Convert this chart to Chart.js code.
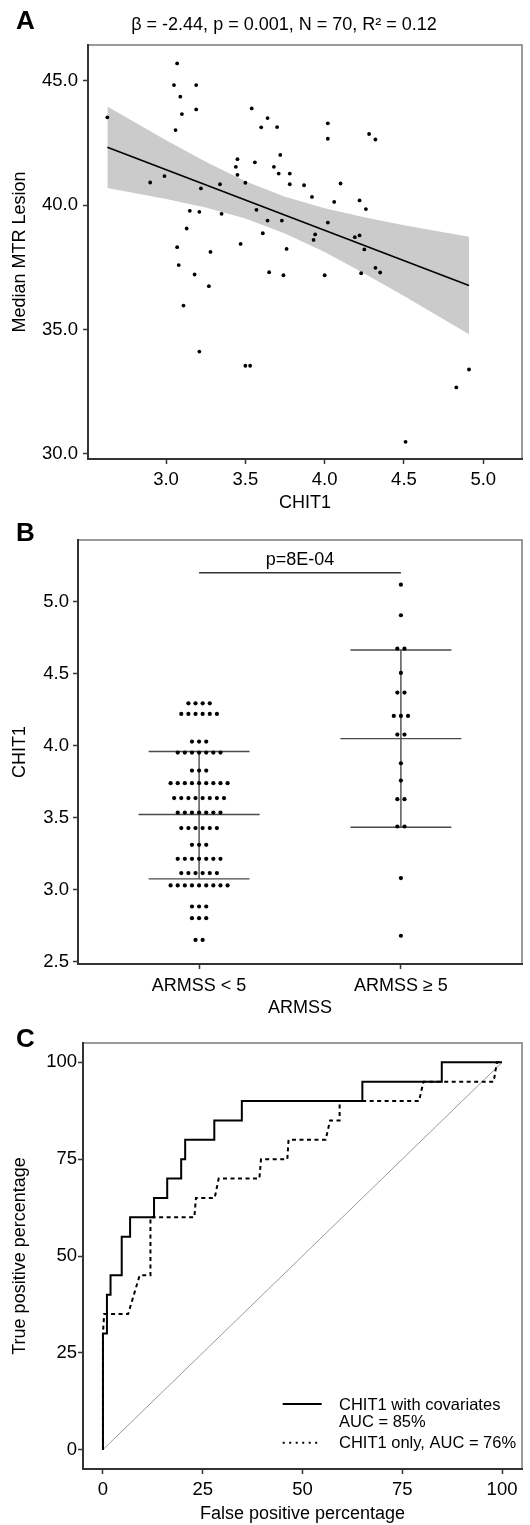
<!DOCTYPE html>
<html>
<head>
<meta charset="utf-8">
<script src="https://cdn.jsdelivr.net/npm/chart.js@4.4.1/dist/chart.umd.min.js"></script>
<style>
  html, body { margin: 0; padding: 0; background: #fff; overflow: hidden; }
  canvas { position: absolute; left: 0; }
</style>
</head>
<body>
<canvas id="chartA" width="530" height="515" style="top:0"></canvas>
<canvas id="chartB" width="530" height="510" style="top:515px"></canvas>
<canvas id="chartC" width="530" height="500" style="top:1025px"></canvas>
<script>
// ---- A: CHIT1 vs median MTR lesion ----
var chitValues = [2.63, 3.07, 3.05, 3.19, 3.09, 3.19, 3.10, 3.06, 2.90, 2.99,
                  3.22, 3.15, 3.21, 3.13, 3.07, 3.28, 3.34, 3.35, 3.47, 3.45,
                  3.44, 3.45, 3.50, 3.54, 3.56, 3.57, 3.60, 3.64, 3.70, 3.72,
                  3.68, 3.71, 3.78, 3.78, 3.64, 3.73, 3.61, 3.76, 3.87, 3.92,
                  4.06, 4.10, 4.02, 4.02, 4.28, 4.32, 4.02, 3.94, 3.93, 4.22,
                  4.26, 4.19, 4.22, 4.25, 3.08, 3.18, 3.27, 3.11, 3.65, 3.74,
                  4.00, 4.23, 4.32, 4.35, 3.21, 3.50, 3.53, 4.51, 4.83, 4.91];
var mtrValues = [43.53, 45.70, 44.83, 44.83, 44.36, 43.85, 43.66, 43.02, 40.91, 41.17,
                 40.67, 39.77, 39.73, 39.06, 38.31, 38.12, 40.84, 39.65, 38.44, 41.85,
                 41.54, 41.22, 40.90, 43.89, 41.72, 39.81, 43.13, 43.50, 43.14, 42.02,
                 41.54, 41.27, 41.27, 40.84, 39.38, 39.38, 38.87, 38.24, 40.80, 40.33,
                 40.13, 40.87, 43.29, 42.67, 42.86, 42.64, 39.30, 38.82, 38.60, 40.19,
                 39.84, 38.71, 38.78, 38.22, 37.59, 37.21, 36.74, 35.96, 37.30, 37.18,
                 37.18, 37.26, 37.48, 37.29, 34.11, 33.54, 33.54, 30.48, 32.67, 33.39];
var fitX = [2.63, 4.91];
var fitY = [42.33, 36.77];
var bandX = [2.63, 3.0, 3.25, 3.5, 3.75, 4.0, 4.25, 4.5, 4.91];
var bandUpper = [43.97, 42.61, 41.74, 40.96, 40.34, 39.87, 39.51, 39.19, 38.73];
var bandLower = [40.69, 40.25, 39.90, 39.46, 38.86, 38.11, 37.25, 36.35, 34.81];
var chitTicks = [3.0, 3.5, 4.0, 4.5, 5.0];
var mtrTicks = [30, 35, 40, 45];
var titleA = '\u03b2 = -2.44, p = 0.001, N = 70, R\u00b2 = 0.12';

// ---- B: CHIT1 by ARMSS group (dot rows: value + number of dots) ----
var armssGroups = ['ARMSS < 5', 'ARMSS \u2265 5'];
var lowRowValues = [4.295, 4.221, 4.029, 3.953, 3.828, 3.741, 3.637, 3.537,
                    3.429, 3.313, 3.216, 3.117, 3.031, 2.885, 2.804, 2.653];
var lowRowCounts = [4, 6, 3, 7, 3, 9, 8, 7, 6, 3, 7, 6, 9, 3, 3, 2];
var highRowValues = [5.118, 4.906, 4.674, 4.506, 4.369, 4.207, 4.078, 3.879,
                     3.759, 3.630, 3.440, 3.082, 2.682];
var highRowCounts = [1, 1, 2, 1, 2, 3, 2, 1, 1, 2, 2, 1, 1];
var groupMeans = [3.523, 4.050];
var groupSdLow = [3.077, 3.435];
var groupSdHigh = [3.960, 4.665];
var bracketY = 5.201;
var pLabel = 'p=8E-04';
var chitTicksB = [2.5, 3.0, 3.5, 4.0, 4.5, 5.0];

// ---- C: ROC curves ----
var covFpr = [0, 0, 1.0, 1.0, 1.9, 1.9, 4.7, 4.7, 6.8, 6.8, 12.8, 12.8, 16.1, 16.1,
              19.6, 19.6, 20.6, 20.6, 27.9, 27.9, 34.8, 34.8, 65.0, 65.0, 84.9, 84.9, 100];
var covTpr = [0, 30, 30, 40, 40, 45, 45, 55, 55, 60, 60, 65, 65, 70,
              70, 75, 75, 80, 80, 85, 85, 90, 90, 95, 95, 100, 100];
var onlyFpr = [0, 0, 0.3, 6.3, 9.2, 11.9, 11.9, 22.9, 23.3, 28.0, 29.0, 39.2, 39.6,
               46.2, 46.5, 55.8, 56.9, 59.3, 59.3, 79.2, 80.3, 97.9, 98.7, 100];
var onlyTpr = [0, 30, 35, 35, 45, 45, 60, 60, 65, 65, 70, 70, 75,
               75, 80, 80, 85, 85, 90, 90, 95, 95, 100, 100];
var pctTicks = [0, 25, 50, 75, 100];
var rocLegend = ['CHIT1 with covariates', 'AUC = 85%', 'CHIT1 only, AUC = 76%'];

Chart.defaults.font.family = '"Liberation Sans", Arial, sans-serif';
Chart.defaults.color = '#000';

function xy(xs, ys) {
    return xs.map(function (x, i) { return {x: x, y: ys[i]}; });
}

// grey frame round the panel, axes drawn over it
var frame = {
    id: 'frame',
    beforeDraw: function (chart) {
        var a = chart.chartArea, ctx = chart.ctx;
        ctx.save();
        ctx.strokeStyle = '#7a7a7a';
        ctx.lineWidth = 1.5;
        ctx.strokeRect(a.left, a.top, a.right - a.left, a.bottom - a.top);
        ctx.restore();
    }
};

// panel letters, titles, legend keys
var panelText = {
    id: 'panelText',
    afterDraw: function (chart, args, opts) {
        var ctx = chart.ctx;
        ctx.save();
        (opts.lines || []).forEach(function (l) {
            ctx.beginPath();
            ctx.setLineDash(l.dash || []);
            ctx.lineWidth = l.width;
            ctx.strokeStyle = '#000';
            ctx.moveTo(l.x1, l.y);
            ctx.lineTo(l.x2, l.y);
            ctx.stroke();
        });
        ctx.setLineDash([]);
        ctx.fillStyle = '#000';
        ctx.textBaseline = 'middle';
        (opts.texts || []).forEach(function (t) {
            var x = t.x, y = t.y;
            if (t.dataX !== undefined) {
                x = chart.scales.x.getPixelForValue(t.dataX);
                y = chart.scales.y.getPixelForValue(t.dataY) + t.dy;
            }
            ctx.font = t.font;
            ctx.textAlign = t.align || 'left';
            ctx.fillText(t.text, x, y);
        });
        ctx.restore();
    }
};

function numAxis(min, max, ticks, fmt, size, title, pad) {
    return {
        type: 'linear', min: min, max: max, bounds: 'data',
        afterBuildTicks: function (s) { s.ticks = ticks.map(function (v) { return {value: v}; }); },
        afterFit: function (s) {
            if (s.isHorizontal()) s.height = size; else s.width = size;
        },
        ticks: {callback: fmt, padding: pad.tick, font: {size: 18.5}, color: '#000',
                maxRotation: 0, autoSkip: false},
        grid: {drawOnChartArea: false, tickLength: 5, tickColor: '#333', tickWidth: 1.5},
        border: {color: '#333', width: 2},
        title: {display: true, text: title, font: {size: 18}, color: '#000', padding: pad.title}
    };
}

var oneDec = function (v) { return v.toFixed(1); };
var plain = function (v) { return String(v); };
var common = {
    responsive: false,
    animation: false,
    events: []
};

// A
new Chart(document.getElementById('chartA'), {
    type: 'scatter',
    data: {
        datasets: [
            {type: 'line', data: xy(bandX, bandUpper), borderColor: 'rgba(0,0,0,0)', borderWidth: 0,
             pointRadius: 0, fill: '+1', backgroundColor: '#cbcbcb', order: 3},
            {type: 'line', data: xy(bandX, bandLower), borderColor: 'rgba(0,0,0,0)', borderWidth: 0,
             pointRadius: 0, fill: false, order: 3},
            {type: 'line', data: xy(fitX, fitY), borderColor: '#000', borderWidth: 1.6,
             pointRadius: 0, fill: false, order: 2},
            {data: xy(chitValues, mtrValues), pointRadius: 1.9, backgroundColor: '#000',
             borderWidth: 0, order: 1}
        ]
    },
    options: Object.assign({}, common, {
        layout: {padding: {top: 45, right: 8, left: 0, bottom: 0}},
        scales: {
            x: numAxis(2.508, 5.244, chitTicks, oneDec, 56, 'CHIT1', {tick: 5, title: {top: 0, bottom: 1}}),
            y: numAxis(29.79, 46.44, mtrTicks, oneDec, 88, 'Median MTR Lesion', {tick: 5, title: {top: 9, bottom: 0}})
        },
        plugins: {
            legend: {display: false},
            tooltip: {enabled: false},
            panelText: {texts: [
                {text: 'A', x: 16, y: 22, font: 'bold 26px "Liberation Sans", Arial, sans-serif'},
                {text: titleA, x: 284, y: 25, align: 'center', font: '18px "Liberation Sans", Arial, sans-serif'}
            ]}
        }
    }),
    plugins: [frame, panelText]
});

// B
var dotStep = 0.0353;
function dotRows(center, values, counts) {
    var pts = [];
    values.forEach(function (v, r) {
        var n = counts[r];
        for (var i = 0; i < n; i++) pts.push({x: center + (i - (n - 1) / 2) * dotStep, y: v});
    });
    return pts;
}
var summaryLines = [];
groupMeans.forEach(function (m, g) {
    var c = g + 1;
    [[c - 0.3, m, c + 0.3, m],
     [c - 0.25, groupSdLow[g], c + 0.25, groupSdLow[g]],
     [c - 0.25, groupSdHigh[g], c + 0.25, groupSdHigh[g]],
     [c, groupSdLow[g], c, groupSdHigh[g]]].forEach(function (s) {
        summaryLines.push({type: 'line', data: [{x: s[0], y: s[1]}, {x: s[2], y: s[3]}],
            borderColor: '#4a4a4a', borderWidth: 1.4, pointRadius: 0, fill: false, order: 2});
    });
});

var bAxisX = numAxis(0.4, 2.6, [1, 2], function (v) { return armssGroups[v - 1]; }, 61, 'ARMSS',
                     {tick: 6, title: {top: 0, bottom: 6}});
bAxisX.ticks.font = {size: 18};

new Chart(document.getElementById('chartB'), {
    type: 'scatter',
    data: {
        datasets: summaryLines.concat([
            {type: 'line', data: [{x: 1, y: bracketY}, {x: 2, y: bracketY}], borderColor: '#333',
             borderWidth: 1.5, pointRadius: 0, fill: false, order: 2},
            {data: dotRows(1, lowRowValues, lowRowCounts).concat(dotRows(2, highRowValues, highRowCounts)),
             pointRadius: 2.1, backgroundColor: '#000', borderWidth: 0, order: 1}
        ])
    },
    options: Object.assign({}, common, {
        layout: {padding: {top: 25, right: 8, left: 0, bottom: 0}},
        scales: {
            x: bAxisX,
            y: numAxis(2.486, 5.428, chitTicksB, oneDec, 78, 'CHIT1', {tick: 4, title: {top: 9, bottom: 0}})
        },
        plugins: {
            legend: {display: false},
            tooltip: {enabled: false},
            panelText: {texts: [
                {text: 'B', x: 16, y: 19, font: 'bold 26px "Liberation Sans", Arial, sans-serif'},
                {text: pLabel, dataX: 1.5, dataY: bracketY, dy: -13, align: 'center',
                 font: '18px "Liberation Sans", Arial, sans-serif'}
            ]}
        }
    }),
    plugins: [frame, panelText]
});

// C
new Chart(document.getElementById('chartC'), {
    type: 'scatter',
    data: {
        datasets: [
            {data: [{x: 0, y: 0}, {x: 100, y: 100}], showLine: true, borderColor: '#9a9a9a',
             borderWidth: 1, pointRadius: 0, order: 3},
            {data: xy(onlyFpr, onlyTpr), showLine: true, borderColor: '#000', borderWidth: 2,
             borderDash: [4, 3.5], pointRadius: 0, order: 2},
            {data: xy(covFpr, covTpr), showLine: true, borderColor: '#000', borderWidth: 2,
             pointRadius: 0, order: 1}
        ]
    },
    options: Object.assign({}, common, {
        layout: {padding: {top: 18, right: 8, left: 0, bottom: 0}},
        scales: {
            x: numAxis(-5, 105, pctTicks, plain, 56, 'False positive percentage', {tick: 5, title: {top: 0, bottom: 0}}),
            y: numAxis(-5, 105, pctTicks, plain, 83, 'True positive percentage', {tick: 1, title: {top: 9, bottom: 0}})
        },
        plugins: {
            legend: {display: false},
            tooltip: {enabled: false},
            panelText: {
                lines: [
                    {x1: 282.7, x2: 321.7, y: 379, width: 2},
                    {x1: 282.7, x2: 318, y: 417.7, width: 2, dash: [2, 4.5]}
                ],
                texts: [
                    {text: 'C', x: 16, y: 15, font: 'bold 26px "Liberation Sans", Arial, sans-serif'},
                    {text: rocLegend[0], x: 339, y: 380, font: '16.5px "Liberation Sans", Arial, sans-serif'},
                    {text: rocLegend[1], x: 339, y: 397.5, font: '16.5px "Liberation Sans", Arial, sans-serif'},
                    {text: rocLegend[2], x: 339, y: 418, font: '16.5px "Liberation Sans", Arial, sans-serif'}
                ]
            }
        }
    }),
    plugins: [frame, panelText]
});
</script>
</body>
</html>
